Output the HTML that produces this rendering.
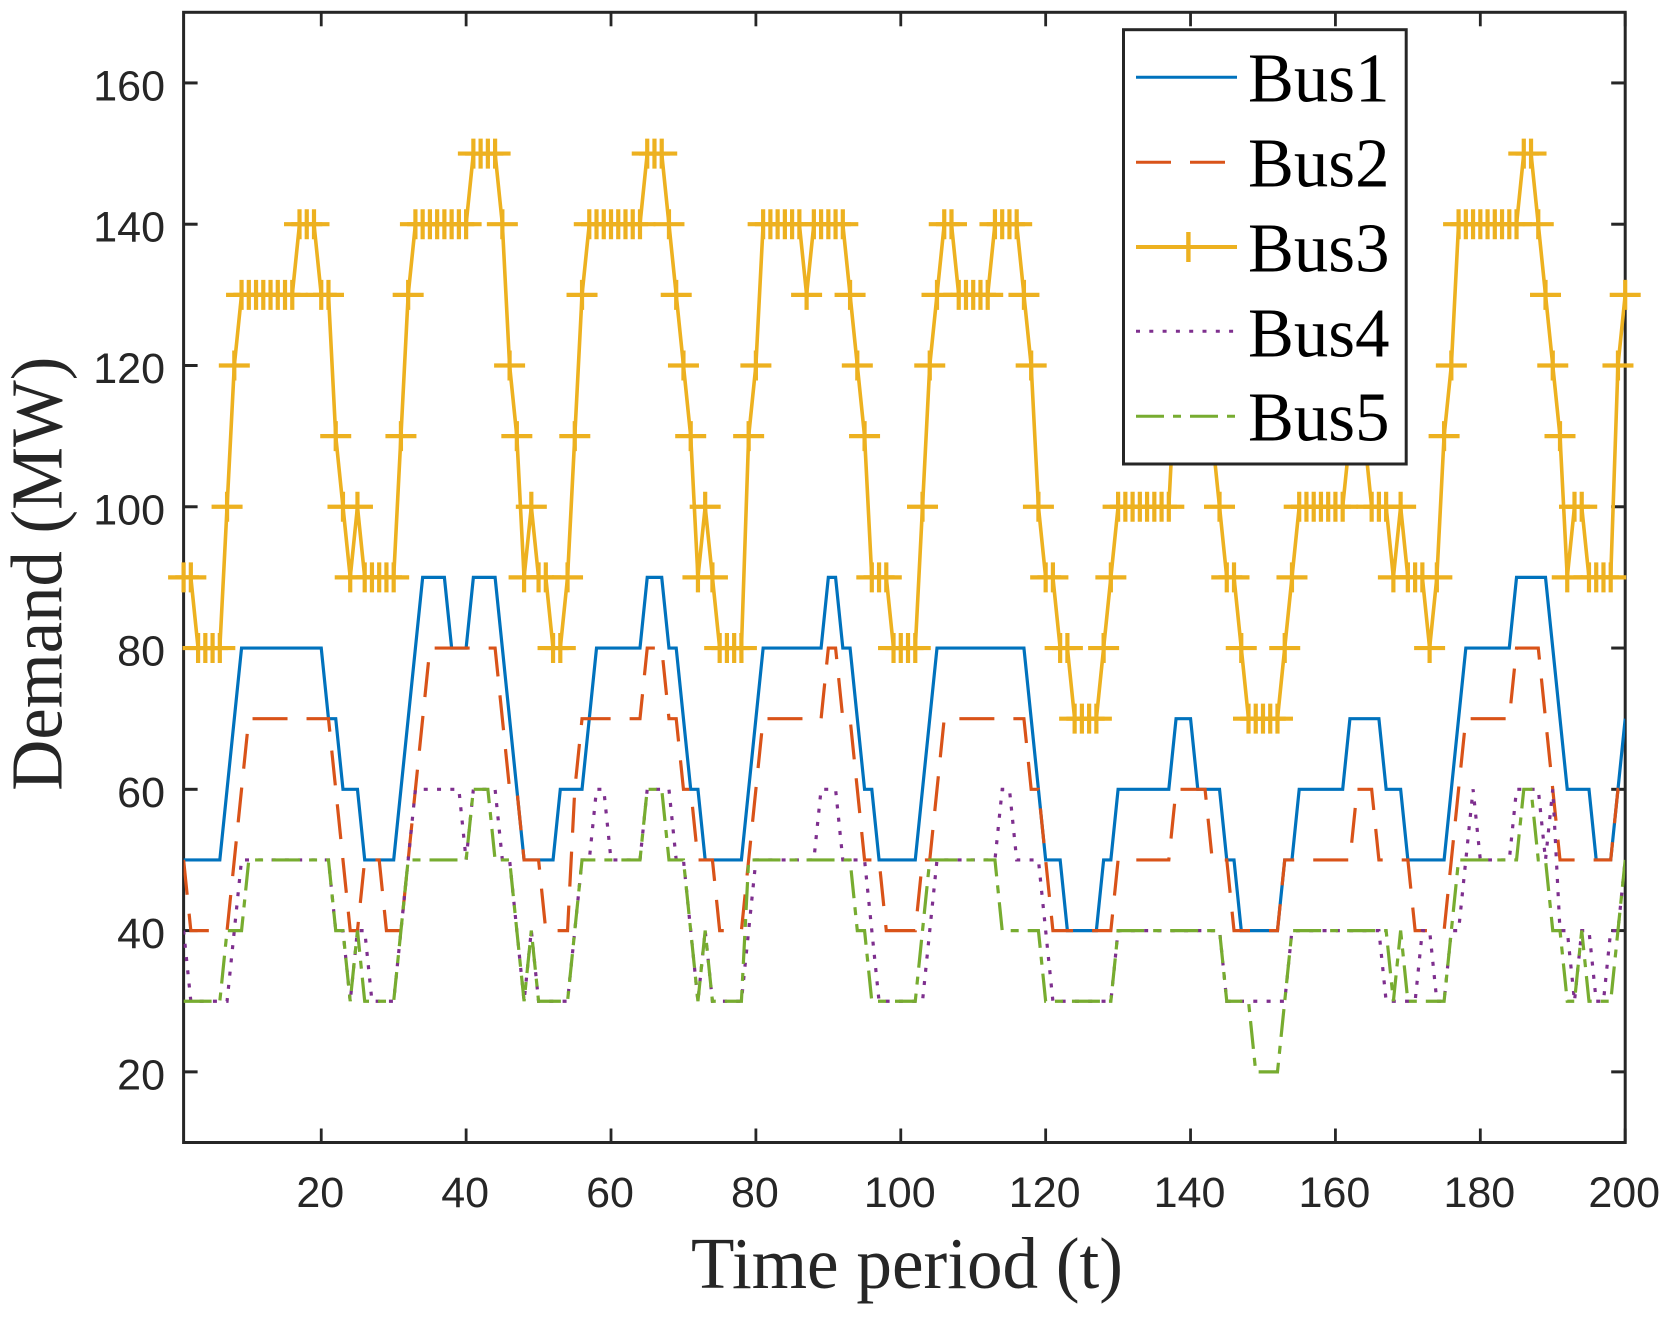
<!DOCTYPE html>
<html lang="en">
<head>
<meta charset="utf-8">
<title>Demand by bus over time</title>
<style>
html,body{margin:0;padding:0;background:#fff;}
svg{display:block;}
.tick-label{font-family:"Liberation Sans",Arial,sans-serif;font-size:43px;fill:#262626;}
.axis-title{font-family:"Liberation Serif","Times New Roman",serif;font-size:73px;fill:#262626;}
.legend-label{font-family:"Liberation Serif","Times New Roman",serif;font-size:70px;fill:#000;}
</style>
</head>
<body>
<svg id="chart" xmlns="http://www.w3.org/2000/svg" width="1675" height="1318" viewBox="0 0 1675 1318">
  <rect x="0" y="0" width="1675" height="1318" fill="#fff"/>
  <defs><clipPath id="plot-clip"><rect x="183.6" y="12.3" width="1441.6" height="1130.2"/></clipPath></defs>
  <g id="axes-layer"></g>
  <g id="series-layer"></g>
  <text class="axis-title" x="691" y="1288" textLength="432" lengthAdjust="spacingAndGlyphs">Time period (t)</text>
  <text class="axis-title" transform="translate(61.7,790.7) rotate(-90)" textLength="434" lengthAdjust="spacingAndGlyphs">Demand (MW)</text>
  <g id="legend-layer">
    <rect x="1123.5" y="29.7" width="282.7" height="434.3" fill="#fff" stroke="#262626" stroke-width="3"/>
    <line x1="1136" y1="77.3" x2="1237" y2="77.3" stroke="#0072BD" stroke-width="3"/>
    <text class="legend-label" x="1248" y="101.7" textLength="141.5" lengthAdjust="spacingAndGlyphs">Bus1</text>
    <line x1="1136" y1="162.3" x2="1237" y2="162.3" stroke="#D95319" stroke-width="3" stroke-dasharray="35 19"/>
    <text class="legend-label" x="1248" y="186.7" textLength="141.5" lengthAdjust="spacingAndGlyphs">Bus2</text>
    <line x1="1136" y1="247" x2="1237" y2="247" stroke="#EDB120" stroke-width="4"/>
    <path d="M1188.4 232V262" stroke="#EDB120" stroke-width="4.4" fill="none"/>
    <text class="legend-label" x="1248" y="271.7" textLength="141.5" lengthAdjust="spacingAndGlyphs">Bus3</text>
    <line x1="1136" y1="331.3" x2="1237" y2="331.3" stroke="#7E2F8E" stroke-width="3" stroke-dasharray="4 9.3"/>
    <text class="legend-label" x="1248" y="356.7" textLength="141.5" lengthAdjust="spacingAndGlyphs">Bus4</text>
    <line x1="1136" y1="416.3" x2="1237" y2="416.3" stroke="#77AC30" stroke-width="3" stroke-dasharray="28 9 8 9"/>
    <text class="legend-label" x="1248" y="440.7" textLength="141.5" lengthAdjust="spacingAndGlyphs">Bus5</text>
  </g>
</svg>
<script>
const xTicks = [20,40,60,80,100,120,140,160,180,200];
const yTicks = [20,40,60,80,100,120,140,160];
const bus1 = [
50,50,50,50,50,50,60,70,80,80,
80,80,80,80,80,80,80,80,80,80,
70,70,60,60,60,50,50,50,50,50,
60,70,80,90,90,90,90,80,80,80,
90,90,90,90,80,70,60,50,50,50,
50,50,60,60,60,60,70,80,80,80,
80,80,80,80,90,90,90,80,80,70,
60,60,50,50,50,50,50,50,60,70,
80,80,80,80,80,80,80,80,80,90,
90,80,80,70,60,60,50,50,50,50,
50,50,60,70,80,80,80,80,80,80,
80,80,80,80,80,80,80,70,60,50,
50,50,40,40,40,40,40,50,50,60,
60,60,60,60,60,60,60,70,70,70,
60,60,60,60,50,50,40,40,40,40,
40,40,50,50,60,60,60,60,60,60,
60,70,70,70,70,70,60,60,60,50,
50,50,50,50,50,60,70,80,80,80,
80,80,80,80,90,90,90,90,90,80,
70,60,60,60,60,50,50,50,60,70];
const bus2 = [
50,40,40,40,40,40,40,50,60,70,
70,70,70,70,70,70,70,70,70,70,
70,60,50,40,40,50,50,50,40,40,
40,50,60,70,80,80,80,80,80,80,
80,80,80,80,70,60,60,50,50,50,
40,40,40,40,60,70,70,70,70,70,
70,70,70,70,80,80,80,70,70,60,
60,50,50,50,40,40,40,40,50,60,
70,70,70,70,70,70,70,70,70,80,
80,70,70,60,50,50,50,40,40,40,
40,40,50,50,60,70,70,70,70,70,
70,70,70,70,70,70,70,60,60,50,
40,40,40,40,40,40,40,40,40,50,
50,50,50,50,50,50,50,60,60,60,
60,60,50,50,50,40,40,40,40,40,
40,40,50,50,50,50,50,50,50,50,
50,50,60,60,60,50,50,50,50,50,
40,40,40,40,40,50,60,70,70,70,
70,70,70,70,80,80,80,80,70,60,
50,50,50,50,50,50,50,50,60,60];
const bus3 = [
90,90,80,80,80,80,100,120,130,130,
130,130,130,130,130,130,140,140,140,130,
130,110,100,90,100,90,90,90,90,90,
110,130,140,140,140,140,140,140,140,140,
150,150,150,150,140,120,110,90,100,90,
90,80,80,90,110,130,140,140,140,140,
140,140,140,140,150,150,150,140,130,120,
110,90,100,90,80,80,80,80,110,120,
140,140,140,140,140,140,130,140,140,140,
140,140,130,120,110,90,90,90,80,80,
80,80,100,120,130,140,140,130,130,130,
130,130,140,140,140,140,130,120,100,90,
90,80,80,70,70,70,70,80,90,100,
100,100,100,100,100,100,100,120,130,130,
130,120,110,100,90,90,80,70,70,70,
70,70,80,90,100,100,100,100,100,100,
100,110,120,110,100,100,100,90,100,90,
90,90,80,90,110,120,140,140,140,140,
140,140,140,140,140,150,150,140,130,120,
110,90,100,100,90,90,90,90,120,130];
const bus4 = [
40,30,30,30,30,30,30,40,50,50,
50,50,50,50,50,50,50,50,50,50,
50,40,40,30,40,40,30,30,30,30,
40,50,60,60,60,60,60,60,60,50,
60,60,60,60,50,50,40,30,40,30,
30,30,30,30,40,50,50,60,60,50,
50,50,50,50,60,60,60,60,50,50,
40,30,40,30,30,30,30,30,40,50,
50,50,50,50,50,50,50,50,60,60,
60,50,50,50,50,40,30,30,30,30,
30,30,30,40,50,50,50,50,50,50,
50,50,50,60,60,50,50,50,50,40,
30,30,30,30,30,30,30,30,30,40,
40,40,40,40,40,40,40,40,40,40,
40,40,40,40,30,30,30,30,30,30,
30,30,30,40,40,40,40,40,40,40,
40,40,40,40,40,40,30,30,30,30,
30,40,40,30,30,40,40,50,60,50,
50,50,50,50,60,60,60,60,50,60,
40,40,30,40,40,30,30,40,40,50];
const bus5 = [
30,30,30,30,30,30,40,40,40,50,
50,50,50,50,50,50,50,50,50,50,
50,40,40,30,40,30,30,30,30,30,
40,50,50,50,50,50,50,50,50,50,
60,60,60,50,50,50,40,30,40,30,
30,30,30,30,40,50,50,50,50,50,
50,50,50,50,60,60,60,50,50,50,
40,30,40,30,30,30,30,30,50,50,
50,50,50,50,50,50,50,50,50,50,
50,50,50,40,40,30,30,30,30,30,
30,30,40,50,50,50,50,50,50,50,
50,50,50,40,40,40,40,40,40,30,
30,30,30,30,30,30,30,30,30,40,
40,40,40,40,40,40,40,40,40,40,
40,40,40,40,30,30,30,30,20,20,
20,20,30,40,40,40,40,40,40,40,
40,40,40,40,40,40,40,30,40,30,
30,30,30,30,30,40,50,50,50,50,
50,50,50,50,50,60,60,50,50,40,
40,30,30,40,30,30,30,30,40,50];

const NS = 'http://www.w3.org/2000/svg';
const plotLeft = 183.6, plotRight = 1625.2, plotTop = 12.3, plotBottom = 1142.5;
const xMin = 1, xMax = 200, yMin = 10, yMax = 170;
function xScale(t){ return plotLeft + (t - xMin) / (xMax - xMin) * (plotRight - plotLeft); }
function yScale(v){ return plotBottom - (v - yMin) / (yMax - yMin) * (plotBottom - plotTop); }
function make(tag, attrs, parent){
  const el = document.createElementNS(NS, tag);
  for (const k in attrs) el.setAttribute(k, attrs[k]);
  parent.appendChild(el);
  return el;
}
const axesLayer = document.getElementById('axes-layer');
const seriesLayer = document.getElementById('series-layer');
const INK = '#262626';

const plotBox = make('rect', {x: plotLeft, y: plotTop, width: plotRight - plotLeft, height: plotBottom - plotTop, fill: 'none', stroke: INK, 'stroke-width': 3}, axesLayer);



const tickLen = 14;
xTicks.forEach(function(t){
  const x = xScale(t);
  const bottomTick = make('line', {x1: x, x2: x, y1: plotBottom, y2: plotBottom - tickLen, stroke: INK, 'stroke-width': 2.8}, axesLayer);
  
  
  const topTick = make('line', {x1: x, x2: x, y1: plotTop, y2: plotTop + tickLen, stroke: INK, 'stroke-width': 2.8}, axesLayer);
  
  
  const label = make('text', {x: x - 1, y: 1207, 'text-anchor': 'middle', class: 'tick-label'}, axesLayer);
  label.textContent = String(t);
  
  
});
yTicks.forEach(function(v){
  const y = yScale(v);
  const leftTick = make('line', {x1: plotLeft, x2: plotLeft + tickLen, y1: y, y2: y, stroke: INK, 'stroke-width': 3}, axesLayer);
  
  
  const rightTick = make('line', {x1: plotRight, x2: plotRight - tickLen, y1: y, y2: y, stroke: INK, 'stroke-width': 3}, axesLayer);
  
  
  const label = make('text', {x: 165, y: y + 17.5, 'text-anchor': 'end', class: 'tick-label'}, axesLayer);
  label.textContent = String(v);
  
  
});

function pathFor(values){
  return values.map(function(v, i){
    return (i === 0 ? 'M' : 'L') + xScale(i + 1).toFixed(2) + ' ' + yScale(v).toFixed(2);
  }).join('');
}
function drawSeries(values, color, width, dash, name){
  const line = make('path', {d: pathFor(values), fill: 'none', stroke: color, 'stroke-width': width, 'stroke-linejoin': 'miter', 'clip-path': 'url(#plot-clip)'}, seriesLayer);
  if (dash) line.setAttribute('stroke-dasharray', dash);
  
  
  return line;
}
drawSeries(bus1, '#0072BD', 3.2, '', 'line-bus1');
drawSeries(bus2, '#D95319', 3.2, '35 19', 'line-bus2');
drawSeries(bus3, '#EDB120', 3.6, '', 'line-bus3');
bus3.forEach(function(v, i){
  const x = xScale(i + 1), y = yScale(v);
  const mark = make('path', {d: 'M' + (x - 15.5).toFixed(2) + ' ' + y.toFixed(2) + 'H' + (x + 15.5).toFixed(2) + 'M' + x.toFixed(2) + ' ' + (y - 15).toFixed(2) + 'V' + (y + 15).toFixed(2), fill: 'none', stroke: '#EDB120', 'stroke-width': 4.2}, seriesLayer);
  
  
});
drawSeries(bus4, '#7E2F8E', 3.2, '4 9.3', 'line-bus4');
drawSeries(bus5, '#77AC30', 3.2, '28 9 8 9', 'line-bus5');
</script>
</body>
</html>
